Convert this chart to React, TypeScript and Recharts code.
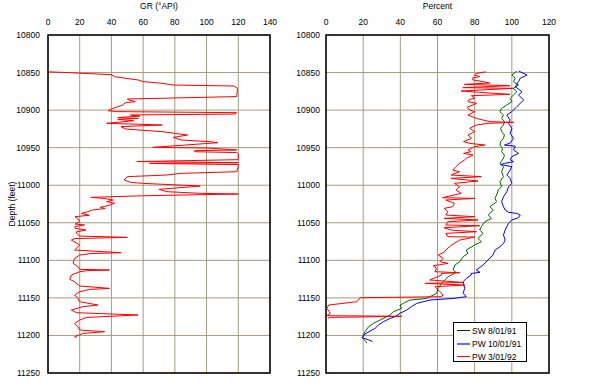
import React from 'react';
import { LineChart, Line, XAxis, YAxis, CartesianGrid, ReferenceArea, Legend } from 'recharts';

const FONT = '"Liberation Sans", Arial, sans-serif';
const FS = 8.5;

const DEPTH_TICKS = [10800, 10850, 10900, 10950, 11000, 11050, 11100, 11150, 11200, 11250];
const GR_TICKS = [0, 20, 40, 60, 80, 100, 120, 140];
const PCT_TICKS = [0, 20, 40, 60, 80, 100, 120];

// [depth (feet), GR (°API)]
const GR_LOG: [number, number][] = [
  [10849, 0], [10850, 12], [10852.8, 40], [10855.5, 42], [10860, 57], [10862, 60], [10864.4, 72],
  [10866.6, 79], [10867.9, 117], [10870, 119], [10873, 119.5], [10882, 119], [10884.3, 70],
  [10885.2, 50], [10886.5, 51], [10888.8, 55], [10890, 49], [10893.2, 47], [10897.6, 41],
  [10900.8, 38], [10902, 43], [10903.4, 119], [10905.2, 118], [10906.5, 52], [10908, 58],
  [10910, 44], [10911, 57], [10912.3, 44], [10914.1, 54], [10917.6, 37], [10919.8, 72],
  [10922, 46], [10925.2, 49], [10928.7, 72], [10931.8, 83], [10933.2, 88], [10936.3, 79],
  [10939.8, 84], [10942, 102], [10943.4, 107], [10949.6, 66], [10950.5, 101], [10953.1, 119],
  [10954, 92.5], [10955.4, 92.5], [10956.5, 119], [10958.5, 120], [10966, 120], [10968.5, 56],
  [10970, 120], [10971, 64], [10972.5, 120], [10975, 120], [10982, 119], [10984.2, 84],
  [10986.4, 75], [10988.6, 50], [10993.1, 48], [10996.2, 52], [10997.5, 60], [11001.1, 96],
  [11005.5, 70], [11008.6, 75], [11010.8, 96], [11011.7, 120], [11014, 60], [11016.2, 27],
  [11017.5, 35], [11019.7, 41], [11021.9, 37], [11024, 42], [11026.4, 39], [11029.5, 33],
  [11031, 36], [11033, 28], [11035.3, 25], [11037.5, 21], [11040, 26], [11041.9, 17],
  [11045, 19], [11048.6, 20], [11051.7, 17], [11053, 23], [11055, 17], [11057.4, 17],
  [11059.7, 24], [11062, 18], [11064.1, 18], [11067.7, 20], [11069.4, 50], [11071, 17],
  [11073, 14.7], [11079.6, 20], [11086.3, 16.8], [11089.8, 46], [11091, 27], [11093, 20],
  [11097.4, 16.8], [11104, 15.8], [11108.5, 18.9], [11112, 20], [11112.9, 38.9], [11113.8, 24.2],
  [11115.2, 20], [11119.6, 14.7], [11125.3, 13.7], [11128.5, 16.8], [11134.2, 20], [11137.3, 38.9],
  [11138.7, 26.3], [11141.8, 20], [11146.2, 16.8], [11150.7, 18.9], [11155.1, 20], [11159.5, 31.5],
  [11161.7, 22], [11166.2, 14.7], [11169.7, 17.9], [11172.8, 56.8], [11176, 24.2], [11179.5, 20],
  [11183.9, 16.8], [11188.4, 18.9], [11192.8, 20], [11195, 35.7], [11197.3, 22], [11201.7, 16.8],
  [11202.5, 18],
];

// [depth (feet), percent]
const SW_8_01_91: [number, number][] = [
  [10848, 102.7], [10853.3, 100], [10857.7, 101.8], [10862.1, 100.9], [10866.6, 103.6],
  [10871, 100.9], [10875.5, 102.7], [10879.9, 100.9], [10884.3, 99.1], [10888.8, 100],
  [10893.2, 97.3], [10897.6, 94.5], [10902.1, 93.6], [10906.5, 95.5], [10911, 94.5], [10915, 96],
  [10919.8, 95.5], [10924, 94], [10928.7, 94.5], [10933, 96], [10937.6, 95.5], [10942, 94],
  [10946.5, 93.6], [10951, 95], [10955.4, 94.5], [10960, 96], [10964, 95.5], [10970.9, 93.6],
  [10975.3, 95.5], [10982, 94.5], [10988.6, 95.5], [10995.3, 93.6], [11001.9, 94.5],
  [11006.4, 92.7], [11013, 91.8], [11017.5, 90.9], [11022, 91.8], [11028.6, 88.2], [11033, 90],
  [11039.7, 87.3], [11044.1, 89.1], [11048.6, 85.5], [11055.2, 83.6], [11059.7, 82.7],
  [11064.1, 84.5], [11070.8, 81.8], [11075.2, 83.6], [11079.6, 80], [11086.3, 75.5],
  [11090.7, 76.4], [11095.2, 73.8], [11101.8, 72], [11106.3, 69.3], [11112.9, 68.4], [11116, 70],
  [11119.6, 67.5], [11121.8, 65.7], [11126.2, 63.9], [11130.7, 62.1], [11137.3, 60.4],
  [11144, 59.5], [11150.7, 54.1], [11152.9, 45.2], [11157.3, 41.6], [11159.5, 39.8],
  [11164, 40.7], [11168.4, 36.3], [11172.8, 34.5], [11175.1, 32.7], [11179.5, 29.1],
  [11183.9, 25.5], [11188.4, 22.9], [11195, 21], [11203, 19.5], [11207, 21], [11210, 22],
];

const PW_10_01_91: [number, number][] = [
  [10847.9, 103.6], [10853.3, 108.2], [10857.7, 104.5], [10862.1, 103.6], [10868.8, 101.8],
  [10875.5, 105.5], [10879.9, 103.6], [10886.6, 106.4], [10891, 104.5], [10895.4, 102.7],
  [10902.1, 100], [10906.5, 97.3], [10913.2, 99.1], [10917.6, 98.2], [10924.3, 100],
  [10930.9, 99.1], [10937.6, 100.9], [10944, 99], [10946.5, 96], [10948, 101.8], [10953.1, 100.9],
  [10957.6, 103.6], [10962, 100], [10966, 99.1], [10968.7, 100.9], [10971, 96], [10972.5, 94],
  [10975.3, 100], [10979.8, 99.1], [10986.4, 97.3], [10990.9, 99.1], [10997.5, 100],
  [11002, 98.2], [11008.6, 97.3], [11015.3, 95.5], [11022, 94.5], [11028.6, 95.5], [11033, 96.4],
  [11036.1, 98.2], [11037.5, 102.7], [11039.7, 104.5], [11043.2, 103.6], [11046.3, 100],
  [11050.8, 98.2], [11055.2, 97.3], [11059.7, 96.4], [11066.3, 95.5], [11073, 96.4],
  [11077.4, 95.5], [11081.9, 93.6], [11086.3, 91], [11093, 89.8], [11099.6, 87.1],
  [11106.3, 84.5], [11112.9, 80.9], [11116, 82.8], [11117.5, 78], [11119.6, 78.2], [11124, 75.5],
  [11128.5, 73.8], [11137.3, 74.6], [11144, 73.8], [11148.4, 75.5], [11150.7, 68.4],
  [11152.9, 55.9], [11157.3, 48.8], [11161.7, 46], [11166.2, 43.4], [11170.6, 39.8],
  [11175.1, 37.1], [11177.3, 34.5], [11181.7, 30.9], [11186.2, 28.2], [11190.6, 26.4],
  [11198, 21], [11203, 19.5], [11206, 23], [11208, 25],
];

const PW_3_01_92: [number, number][] = [
  [10849, 86], [10851, 81], [10853.3, 80], [10855.5, 82.7], [10857, 79], [10859.9, 79],
  [10862, 84.5], [10864, 88], [10865.7, 74.5], [10867.5, 99], [10869, 84], [10870.1, 73.6],
  [10871, 101], [10873, 85], [10874.6, 72.7], [10876.3, 82.7], [10879, 99], [10880.8, 78.2],
  [10884.3, 80], [10886, 77], [10888.8, 76.4], [10891, 81], [10893.2, 79.1], [10896, 76],
  [10899.9, 77.3], [10902.1, 80], [10906.5, 76.4], [10911, 80.9], [10913.2, 84.5],
  [10915.4, 88.2], [10916.3, 101], [10917.6, 87.3], [10919.8, 80.9], [10924.3, 77.3],
  [10928.7, 80], [10933.2, 76.4], [10937.6, 78.2], [10942, 74], [10944.3, 77.3], [10946.5, 85.5],
  [10948.7, 80], [10953.1, 76.4], [10955.4, 78], [10957.6, 74], [10959.8, 79.1], [10964.2, 75.5],
  [10966.5, 74.5], [10970.9, 71.8], [10975.3, 70], [10979.8, 68.2], [10982, 71.8], [10986.4, 67.3],
  [10988.6, 83.6], [10990.9, 67.3], [10994.4, 81.8], [10997.5, 69.1], [11002, 71.8],
  [11006.4, 70], [11010.8, 72.7], [11016.6, 62.7], [11017.5, 80], [11019.7, 64.5],
  [11024.2, 69.1], [11028.6, 68.2], [11030.8, 63.6], [11035.3, 65.5], [11039.7, 64.5],
  [11041.9, 80], [11044.1, 63.6], [11046.3, 81.8], [11048.6, 65.5], [11053, 64.5], [11053.9, 82.7],
  [11056.6, 63.6], [11059.7, 67.3], [11061.9, 81], [11064.1, 64.5], [11068.5, 65.5], [11069, 80],
  [11073, 72], [11077.4, 69], [11081.9, 66.4], [11086.3, 64.5], [11088.5, 63.9], [11093, 60.4],
  [11097.4, 63], [11101.8, 61.3], [11104, 65.7], [11107.2, 57.7], [11110.7, 59.5], [11115.1, 58.6],
  [11116.5, 72], [11117.4, 62], [11119.6, 62.1], [11126.2, 55.9], [11129.4, 73.8], [11130.7, 53.2],
  [11132.9, 74.6], [11135.1, 58.6], [11137.3, 59.5], [11141.8, 61.3], [11146.2, 63], [11148.4, 62],
  [11149.8, 18.4], [11155.1, 16.6], [11159.5, 1.4], [11164, 0.5], [11170.6, 2.3], [11173.7, 0.5],
  [11174.5, 40.7], [11176, 2.3], [11177, 1],
];

const toRows = (pairs: [number, number][]) => pairs.map(([depth, v]) => ({ depth, v }));

const PERCENT_SERIES = [
  { name: 'SW 8/01/91', color: '#006600', legendColor: '#003300', legendWidth: 1, rows: toRows(SW_8_01_91) },
  { name: 'PW 10/01/91', color: '#0000ff', legendColor: '#6b6bff', legendWidth: 2, rows: toRows(PW_10_01_91) },
  { name: 'PW 3/01/92', color: '#ff0000', legendColor: '#ff0000', legendWidth: 1, rows: toRows(PW_3_01_92) },
];

const GRID = '#a39d7c';
const tickStyle = { fontSize: FS, fill: '#000', fontFamily: FONT };

const DepthLabel = (props: any) => {
  const vb = props.viewBox || { x: 8, y: 35, width: 40, height: 338 };
  const x = vb.x + 6.5;
  const y = vb.y + vb.height / 2;
  return (
    <text x={x} y={y} transform={`rotate(-90, ${x}, ${y})`} textAnchor="middle" fontSize={FS} fontFamily={FONT} fill="#000">
      Depth (feet)
    </text>
  );
};

const LegendBox = () => (
  <div
    style={{
      width: 74,
      height: 40,
      boxSizing: 'border-box',
      border: '1px solid #000',
      background: '#fff',
      padding: '1px 0 0 3px',
      fontFamily: FONT,
      fontSize: FS,
      color: '#000',
      textAlign: 'left',
    }}
  >
    {PERCENT_SERIES.map((s) => (
      <div key={s.name} style={{ height: 13, display: 'flex', alignItems: 'center', whiteSpace: 'nowrap' }}>
        <span style={{ display: 'inline-block', width: 13, height: 0, borderTop: `${s.legendWidth}px solid ${s.legendColor}`, marginRight: 2 }} />
        <span>{s.name}</span>
      </div>
    ))}
  </div>
);

type PanelProps = {
  left: number;
  rightMargin: number;
  domain: [number, number];
  ticks: number[];
  title: string;
  yTickMargin: number;
  depthLabel?: boolean;
  legend?: boolean;
  children: React.ReactNode;
};

const Panel = ({ left, rightMargin, domain, ticks, title, yTickMargin, depthLabel, legend, children }: PanelProps) => (
  <div style={{ position: 'absolute', left, top: 0 }}>
    <LineChart width={290} height={388} layout="vertical" margin={{ top: 0, right: rightMargin, bottom: 15, left: 8 }}>
      <CartesianGrid stroke={GRID} strokeWidth={1} />
      <XAxis
        type="number"
        orientation="top"
        domain={domain}
        ticks={ticks}
        interval={0}
        allowDataOverflow
        height={35}
        axisLine={false}
        tickLine={false}
        tickSize={0}
        tickMargin={10}
        tick={tickStyle}
        label={{ value: title, position: 'insideTop', offset: 3, fontSize: FS, fill: '#000', fontFamily: FONT }}
      />
      <YAxis
        type="number"
        dataKey="depth"
        domain={[10800, 11250]}
        ticks={DEPTH_TICKS}
        interval={0}
        allowDataOverflow
        width={40}
        axisLine={false}
        tickLine={false}
        tickSize={0}
        tickMargin={yTickMargin}
        tick={tickStyle}
        label={depthLabel ? <DepthLabel /> : undefined}
      />
      {children}
      <ReferenceArea
        x1={domain[0]}
        x2={domain[1]}
        y1={10800}
        y2={11250}
        fill="none"
        fillOpacity={0}
        stroke="#000"
        strokeWidth={1.5}
        ifOverflow="visible"
      />
      {legend && (
        <Legend
          layout="vertical"
          align="center"
          verticalAlign="middle"
          content={() => <LegendBox />}
          wrapperStyle={{ left: 453 - left, top: 322, width: 74, height: 40 }}
        />
      )}
    </LineChart>
  </div>
);

export default function App() {
  return (
    <div style={{ position: 'absolute', left: 0, top: 0, width: 600, height: 388, background: '#fff' }}>
      <Panel left={0} rightMargin={20} domain={[0, 140]} ticks={GR_TICKS} title="GR (°API)" yTickMargin={8} depthLabel>
        <Line
          data={toRows(GR_LOG)}
          dataKey="v"
          name="GR"
          type="linear"
          stroke="#ff0000"
          strokeWidth={1}
          dot={false}
          activeDot={false}
          isAnimationActive={false}
        />
      </Panel>
      <Panel left={278} rightMargin={19} domain={[0, 120]} ticks={PCT_TICKS} title="Percent" yTickMargin={6} legend>
        {PERCENT_SERIES.map((s) => (
          <Line
            key={s.name}
            data={s.rows}
            dataKey="v"
            name={s.name}
            type="linear"
            stroke={s.color}
            strokeWidth={1}
            dot={false}
            activeDot={false}
            isAnimationActive={false}
          />
        ))}
      </Panel>
    </div>
  );
}
